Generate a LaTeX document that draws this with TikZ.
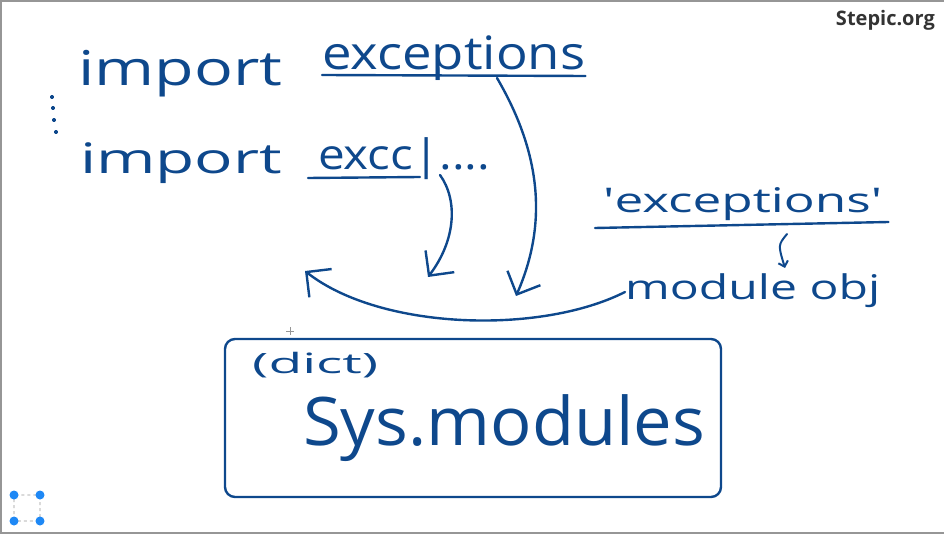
\documentclass[tikz,border=0pt]{standalone}
\usepackage{fontspec}
\setmainfont{Open Sans}
\usepackage{graphicx}
\usetikzlibrary{arrows.meta, calc}
\definecolor{ink}{RGB}{14,72,140}
\definecolor{framegray}{RGB}{150,150,150}
\definecolor{logogray}{RGB}{51,51,51}
\definecolor{selblue}{RGB}{30,136,245}
% handwriting: font size, target width, text
\newcommand{\hand}[3]{\resizebox{#2pt}{\height}{\fontsize{#1}{#1}\selectfont #3}}

\begin{document}
\begin{tikzpicture}[
  x=1pt, y=-1pt,
  ink/.style={draw=ink, line width=2.4pt, line cap=round, line join=round},
  pen/.style={ink, -{Straight Barb[length=18pt, width=36pt]}},
  word/.style={anchor=base west, inner sep=0pt, text=ink},
  box/.style={ink, rounded corners=10pt, minimum width=496pt, minimum height=158pt, inner sep=0pt}
  ]
  \useasboundingbox (0,0) rectangle (944,534);
  % screen frame
  \draw[framegray, line width=2pt] (1,534) -- (1,1) -- (944,1);
  \draw[framegray, line width=2pt] (0,533) -- (944,533);
  \node[anchor=base east, inner sep=0pt, text=logogray, font=\fontsize{20}{20}\selectfont\bfseries] (stepic) at (935,26) {Stepic.org};

  % the two import lines
  \node[word] (imp1) at (78,86) {\hand{48}{204}{import}};
  \node[word] (exc1) at (322,70) {\hand{46}{263}{exceptions}};
  \node[word] (imp2) at (80,174) {\hand{42}{202}{import}};
  \node[word] (exc2) at (318,170) {\hand{42}{172}{excc|....}};
  \foreach \p in {(52,97),(53,108),(54,120),(56,132)}
    \fill[ink] \p circle (1pt);
  \draw[ink] ($(exc1.base west)+(0,5)$) -- ($(exc1.base east)+(0,6)$);
  \draw[ink] ($(exc2.base west)+(-10,8)$) -- ($(exc2.base west)+(102,7)$);

  % name -> module object
  \node[word] (quoted) at (603,213) {\hand{34}{279}{\textquotesingle exceptions\textquotesingle}};
  \node[word] (modobj) at (625,300) {\hand{34}{255}{module obj}};
  \draw[ink] ($(quoted.base west)+(-8,15)$) -- ($(quoted.base east)+(6,9)$);
  \coordinate (tipS) at (785,268);
  \draw[ink, line width=2pt, -{Straight Barb[length=5pt, width=10pt]}] ($(quoted.base west)+(184,21)$) .. controls (778,245) .. (tipS);

  % sys.modules
  \node[box] (sysmod) at (473,418) {};
  \node[word] (dicttag) at (252,373) {\hand{28}{126}{(dict)}};
  \node[word] (sysname) at (303,445) {\hand{67}{402}{Sys.modules}};

  % lookups
  \coordinate (tipA) at (428,277);
  \coordinate (tipB) at (516,296);
  \coordinate (tipC) at (305,271);
  \draw[pen] ($(exc2.base west)+(122,5)$) .. controls (458,200) and (456,240) .. (tipA);
  \draw[pen] ($(exc1.base west)+(175,8)$) .. controls (545,160) and (545,230) .. (tipB);
  \draw[pen] ($(modobj.base west)+(0,-8)$) .. controls (540,335) and (380,330) .. (tipC);

  % cursor and selection widget
  \draw[framegray, line width=0.8pt] (286,331) -- (294,331) (290,327) -- (290,335);
  \draw[framegray, dashed, line width=0.8pt, rounded corners=4pt] (14,495) rectangle (40,521);
  \foreach \p in {(14,495),(40,495),(14,521),(40,521)}
    \fill[selblue] \p circle (4.5pt);
\end{tikzpicture}
\end{document}
